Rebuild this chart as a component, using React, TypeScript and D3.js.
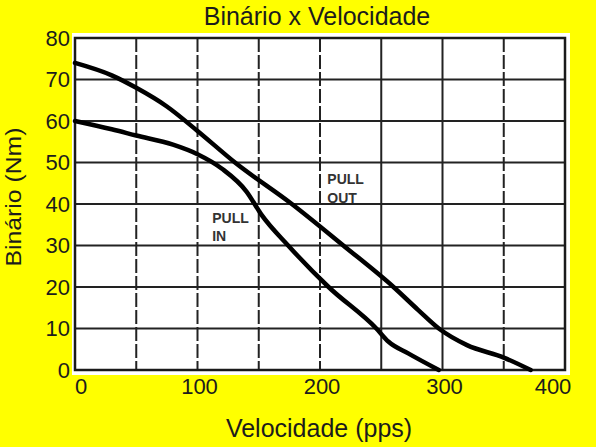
import { useMemo } from "react";
import * as d3 from "d3";

const speeds = [0, 50, 100, 150, 200, 250, 300, 350, 400];
const torques = [0, 10, 20, 30, 40, 50, 60, 70, 80];
const xTickLabels = [0, 100, 200, 300, 400];
const dashedSpeeds = [50, 100, 150, 200, 350];

const pullOut: [number, number][] = [
  [0, 74], [30, 71], [50, 68], [75, 63.5], [100, 57.6], [130.6, 50], [177, 40],
  [219, 30], [260, 20], [280, 14.5], [297, 10], [320, 6], [350, 3], [372, 0],
];
const pullIn: [number, number][] = [
  [0, 60], [30, 58], [50, 56.5], [80, 54.3], [100, 52], [120, 48.5], [140, 43],
  [152, 37.5], [174, 30], [207, 20], [246, 10], [256, 6.8], [272, 4], [297, 0],
];

const W = 608;
const H = 447;
const MARGIN = { top: 38, right: 43, bottom: 77, left: 75 };
const FONT = "'Liberation Sans', Arial, sans-serif";

export default function App() {
  const boundsWidth = W - MARGIN.left - MARGIN.right;
  const boundsHeight = H - MARGIN.top - MARGIN.bottom;

  const xScale = useMemo(() => d3.scaleLinear().domain([0, 400]).range([0, boundsWidth]), [boundsWidth]);
  const yScale = useMemo(() => d3.scaleLinear().domain([0, 80]).range([boundsHeight, 0]), [boundsHeight]);

  const line = d3
    .line<[number, number]>()
    .x((d) => xScale(d[0]))
    .y((d) => yScale(d[1]))
    .curve(d3.curveMonotoneX);

  return (
    <svg width={W} height={H} style={{ display: "block", position: "absolute", left: 0, top: 0 }}>
      <rect x={0} y={0} width={W} height={H} fill="#ffffff" />
      <rect x={0} y={0} width={596} height={H} fill="#ffff00" />
      <text x={317} y={25} textAnchor="middle" fontFamily={FONT} fontSize={25} fill="#1c1c1c">
        Binário x Velocidade
      </text>
      <g transform={`translate(${MARGIN.left},${MARGIN.top})`}>
        <rect x={-3} y={-5} width={boundsWidth + 8} height={boundsHeight + 10} fill="#ffffff" />
        {torques.map((t) => (
          <line key={"h" + t} x1={0} x2={boundsWidth} y1={yScale(t)} y2={yScale(t)} stroke="#222" strokeWidth={2} />
        ))}
        {speeds.map((s) => (
          <line
            key={"v" + s}
            x1={xScale(s)}
            x2={xScale(s)}
            y1={0}
            y2={boundsHeight}
            stroke="#222"
            strokeWidth={2}
            strokeDasharray={dashedSpeeds.includes(s) ? "14,3" : undefined}
          />
        ))}
        <rect x={0} y={0} width={boundsWidth} height={boundsHeight} fill="none" stroke="#1a1a1a" strokeWidth={2.5} />
        <path d={line(pullOut) || ""} fill="none" stroke="#000" strokeWidth={4.5} strokeLinecap="round" />
        <path d={line(pullIn) || ""} fill="none" stroke="#000" strokeWidth={4.5} strokeLinecap="round" />
        <text x={xScale(206)} y={yScale(44.8)} fontFamily={FONT} fontSize={14} fontWeight="bold" fill="#333">
          PULL
        </text>
        <text x={xScale(206)} y={yScale(40.2)} fontFamily={FONT} fontSize={14} fontWeight="bold" fill="#333">
          OUT
        </text>
        <text x={xScale(112)} y={yScale(35.4)} fontFamily={FONT} fontSize={14} fontWeight="bold" fill="#333">
          PULL
        </text>
        <text x={xScale(112)} y={yScale(31.1)} fontFamily={FONT} fontSize={14} fontWeight="bold" fill="#333">
          IN
        </text>
        {torques.map((t) => (
          <text
            key={"yl" + t}
            x={-5}
            y={yScale(t)}
            dy="0.35em"
            textAnchor="end"
            fontFamily={FONT}
            fontSize={22}
            fill="#1c1c1c"
          >
            {t}
          </text>
        ))}
        {xTickLabels.map((s) => (
          <text
            key={"xl" + s}
            x={xScale(s) + (s === 0 ? 6 : s === 400 ? -12 : 2)}
            y={boundsHeight + 24}
            textAnchor="middle"
            fontFamily={FONT}
            fontSize={22}
            fill="#1c1c1c"
          >
            {s}
          </text>
        ))}
        <text
          x={319 - MARGIN.left}
          y={437 - MARGIN.top}
          textAnchor="middle"
          fontFamily={FONT}
          fontSize={25}
          fill="#1c1c1c"
        >
          Velocidade (pps)
        </text>
        <text
          transform={`translate(${21 - MARGIN.left},${197 - MARGIN.top}) rotate(-90)`}
          textAnchor="middle"
          fontFamily={FONT}
          fontSize={22}
          textLength={139}
          lengthAdjust="spacingAndGlyphs"
          fill="#1c1c1c"
        >
          Binário (Nm)
        </text>
      </g>
    </svg>
  );
}
